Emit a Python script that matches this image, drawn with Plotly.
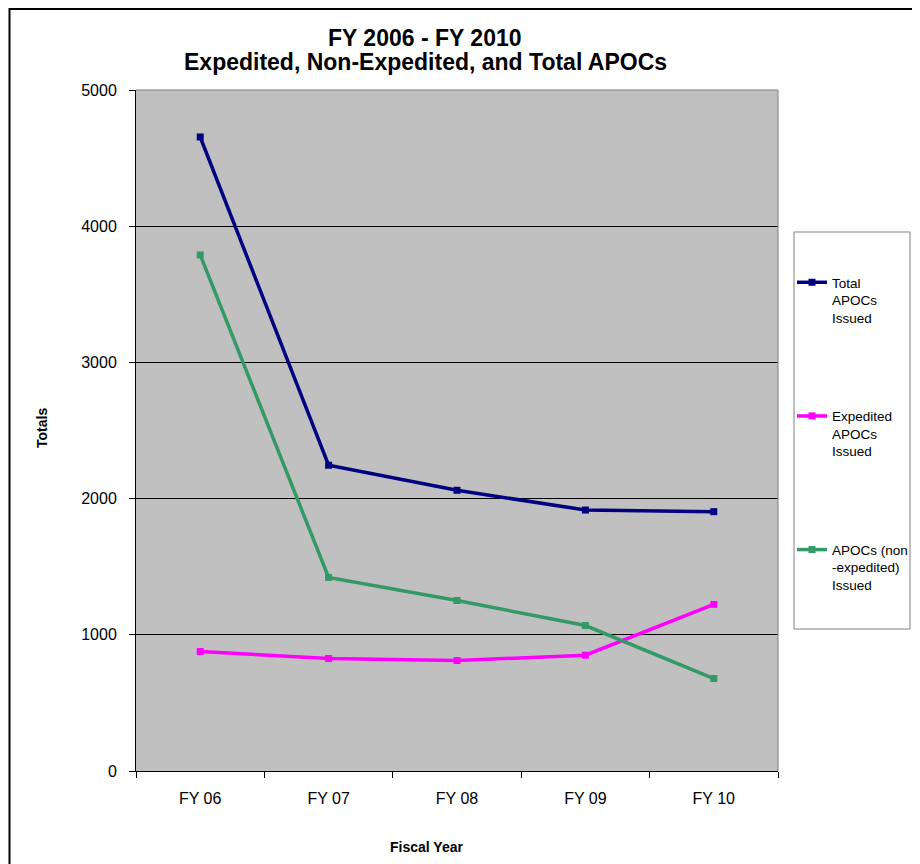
import plotly.graph_objects as go

years = ["FY 06", "FY 07", "FY 08", "FY 09", "FY 10"]
total_apocs = [4655, 2245, 2061, 1916, 1904]
expedited_apocs = [877, 826, 811, 850, 1223]
non_expedited_apocs = [3789, 1421, 1252, 1068, 679]

series_names = ["Total<br>APOCs<br>Issued", "Expedited<br>APOCs<br>Issued", "APOCs (non<br>-expedited)<br>Issued"]
series_colors = ["#000080", "#FF00FF", "#339966"]
series_values = [total_apocs, expedited_apocs, non_expedited_apocs]

FONT = "Liberation Sans, Arial, sans-serif"

# page body adds an 8px offset; work in screen coordinates and convert
OFF = 8
W, H = 920 - OFF, 864 - OFF
PLOT_L, PLOT_R, PLOT_T, PLOT_B = 136, 778, 90, 771  # screen coords
L = PLOT_L - OFF
T = PLOT_T - OFF
R = W - (PLOT_R - OFF)
B = H - (PLOT_B - OFF)
PW, PH = PLOT_R - PLOT_L, PLOT_B - PLOT_T

def px(x):
    return (x - PLOT_L) / PW

def py(y):
    return (PLOT_B - y) / PH

fig = go.Figure()
for i, (name, col, vals) in enumerate(zip(series_names, series_colors, series_values)):
    fig.add_trace(go.Scatter(
        x=years, y=vals, name=name, mode="lines+markers",
        line=dict(color=col, width=3.5),
        marker=dict(symbol="square", size=7, color=col),
        legendgroup=f"g{i}",
    ))

shapes = [
    # outer chart border
    dict(type="rect", xref="paper", yref="paper", x0=px(9.5), x1=px(940), y0=py(885), y1=py(OFF + 1),
         line=dict(color="#000000", width=2), fillcolor="rgba(0,0,0,0)", layer="above"),
    # plot area top/right border (gray)
    dict(type="line", xref="paper", yref="paper", x0=0, x1=1, y0=1, y1=1,
         line=dict(color="#808080", width=1), layer="above"),
    dict(type="line", xref="paper", yref="paper", x0=1, x1=1, y0=0, y1=1,
         line=dict(color="#808080", width=1), layer="above"),
    # legend box
    dict(type="rect", xref="paper", yref="paper", x0=px(794), x1=px(910), y0=py(629), y1=py(232),
         line=dict(color="#808080", width=1), fillcolor="white", layer="below"),
]

annotations = [
    dict(text="<b>FY 2006 - FY 2010</b>", xref="paper", yref="paper", x=px(425), y=py(38),
         xanchor="center", yanchor="middle", showarrow=False, font=dict(family=FONT, size=23, color="black")),
    dict(text="<b>Expedited, Non-Expedited, and Total APOCs</b>", xref="paper", yref="paper", x=px(425), y=py(62),
         xanchor="center", yanchor="middle", showarrow=False, font=dict(family=FONT, size=23, color="black")),
    dict(text="<b>Fiscal Year</b>", xref="paper", yref="paper", x=px(426), y=py(847),
         xanchor="center", yanchor="middle", showarrow=False, font=dict(family=FONT, size=14, color="black")),
    dict(text="<b>Totals</b>", xref="paper", yref="paper", x=px(42), y=py(428), textangle=-90,
         xanchor="center", yanchor="middle", showarrow=False, font=dict(family=FONT, size=14, color="black")),
]

fig.update_layout(
    width=W, height=H,
    margin=dict(l=L, r=R, t=T, b=B, autoexpand=False),
    paper_bgcolor="white",
    plot_bgcolor="#C0C0C0",
    font=dict(family=FONT, size=15, color="black"),
    shapes=shapes,
    annotations=annotations,
    showlegend=True,
    legend=dict(
        x=px(792), y=py(267), xanchor="left", yanchor="top",
        bgcolor="rgba(0,0,0,0)", borderwidth=0,
        font=dict(family=FONT, size=13.5, color="black"),
        valign="top", tracegroupgap=78, itemwidth=30,
    ),
    xaxis=dict(
        type="category", range=[-0.5, 4.5],
        showline=True, linecolor="black", linewidth=1,
        ticks="outside", ticklen=6, tickcolor="black", tickson="boundaries",
        showgrid=False, zeroline=False,
        tickfont=dict(family=FONT, size=16, color="black"),
        ticklabelstandoff=13,
        fixedrange=True,
    ),
    yaxis=dict(
        range=[0, 5000], tickvals=[0, 1000, 2000, 3000, 4000, 5000],
        showline=True, linecolor="black", linewidth=1,
        ticks="outside", ticklen=6, tickcolor="black",
        showgrid=True, gridcolor="black", gridwidth=1, zeroline=False,
        tickfont=dict(family=FONT, size=16, color="black"),
        ticklabelstandoff=9,
        fixedrange=True,
    ),
)

fig.write_html("out.html")
